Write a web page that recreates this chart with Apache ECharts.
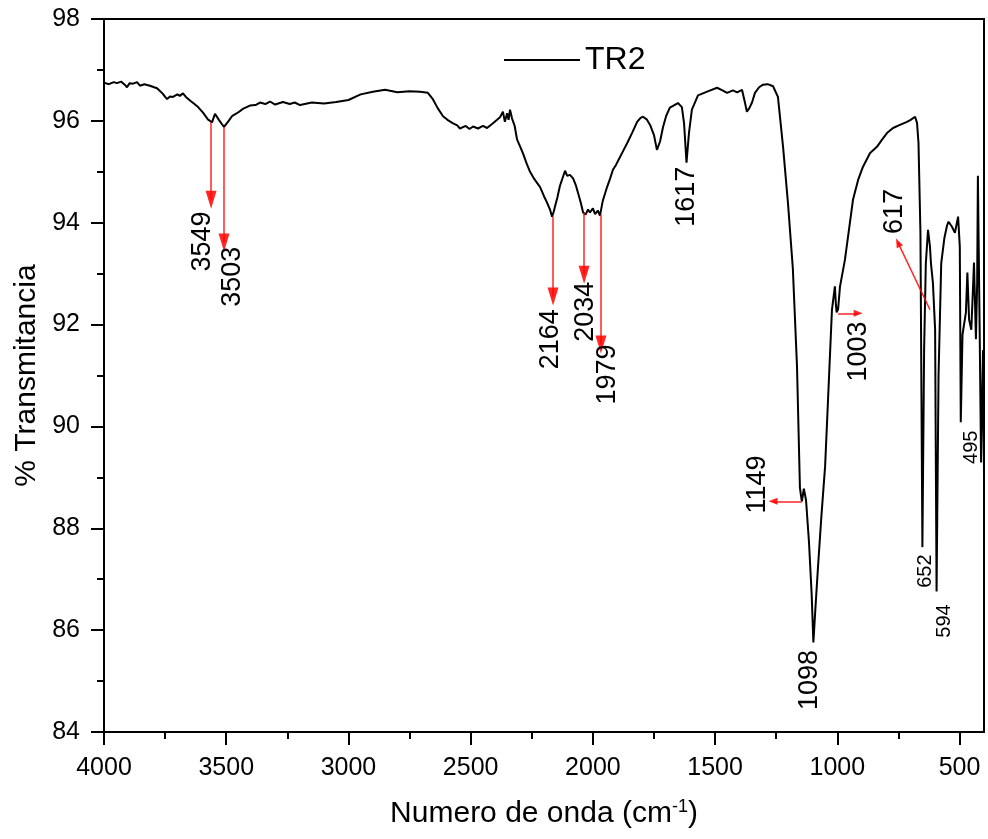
<!DOCTYPE html>
<html><head><meta charset="utf-8">
<script src="https://cdn.jsdelivr.net/npm/echarts@6/dist/echarts.min.js"></script>
<style>html,body{margin:0;padding:0;background:#fff}#c{width:988px;height:839px}</style>
</head><body><div id="c"></div>
<script>
// wavenumbers (cm-1)
var wavenumbers = [4000,3980,3960,3947,3930,3915,3906,3895,3881,3865,3853,3835,3812,3795,3783,3770,3759,3750,3742,3730,3718,3700,3690,3677,3665,3648,3630,3615,3595,3575,3558,3546,3530,3509,3490,3475,3456,3430,3403,3380,3362,3340,3321,3300,3268,3240,3220,3198,3150,3100,3050,3000,2950,2900,2850,2800,2750,2707,2675,2654,2635,2613,2595,2572,2555,2544,2520,2505,2490,2470,2450,2433,2410,2392,2380,2368,2360,2351,2345,2339,2331,2320,2310,2298,2286,2270,2257,2240,2216,2200,2188,2175,2167,2160,2155,2145,2135,2114,2105,2094,2081,2070,2061,2050,2040,2030,2020,2012,2000,1991,1980,1971,1960,1942,1930,1918,1905,1889,1875,1860,1840,1819,1805,1795,1780,1766,1750,1738,1725,1713,1700,1685,1652,1636,1627,1617,1607,1595,1570,1530,1492,1470,1451,1427,1410,1390,1378,1370,1360,1349,1337,1320,1304,1285,1263,1243,1222,1202,1182,1165,1153,1149,1145,1137,1128,1116,1105,1098,1090,1079,1065,1050,1038,1022,1010,1006,1003,997,989,969,950,936,915,895,866,838,817,797,772,744,715,700,682,674,668,660,652,645,638,629,621,617,609,600,594,586,575,562,551,545,531,519,506,499,495,488,474,468,461,452,446,441,433,428,425,418,412,408,404,400];
// % transmittance
var transmittance = [96.75,96.72,96.76,96.74,96.77,96.71,96.66,96.74,96.73,96.76,96.69,96.72,96.69,96.66,96.64,96.58,96.53,96.47,96.43,96.48,96.47,96.52,96.49,96.54,96.47,96.40,96.33,96.27,96.16,96.03,95.97,96.14,96.02,95.88,96.00,96.10,96.15,96.24,96.30,96.31,96.36,96.33,96.38,96.32,96.37,96.33,96.36,96.31,96.36,96.34,96.37,96.41,96.52,96.57,96.61,96.56,96.58,96.57,96.55,96.42,96.25,96.09,96.02,95.95,95.91,95.85,95.90,95.84,95.89,95.85,95.90,95.86,95.95,96.02,96.07,96.18,95.98,96.15,96.02,96.22,96.05,95.90,95.63,95.50,95.36,95.15,95.00,94.86,94.70,94.52,94.40,94.25,94.12,94.22,94.32,94.50,94.72,95.02,94.92,94.94,94.87,94.74,94.59,94.40,94.20,94.16,94.26,94.20,94.28,94.17,94.24,94.14,94.42,94.70,94.86,95.04,95.14,95.29,95.42,95.56,95.76,95.98,96.06,96.08,96.03,95.92,95.72,95.43,95.60,95.88,96.10,96.26,96.35,96.27,95.95,95.18,95.76,96.22,96.50,96.58,96.65,96.60,96.55,96.60,96.56,96.61,96.36,96.18,96.25,96.36,96.55,96.66,96.71,96.72,96.68,96.47,95.49,94.39,93.10,91.18,88.80,88.65,88.53,88.78,88.55,87.73,86.70,85.76,86.40,87.25,88.25,89.22,90.53,92.29,92.75,92.40,92.24,92.30,92.75,93.27,93.95,94.45,94.84,95.10,95.37,95.49,95.63,95.76,95.86,95.92,95.98,96.02,96.08,95.96,95.57,93.80,87.63,91.50,93.20,93.86,93.53,93.20,92.82,91.90,86.76,91.00,93.20,93.70,93.95,94.02,93.92,93.80,94.12,93.53,90.08,91.80,92.24,93.02,92.10,91.90,92.60,93.22,91.71,92.80,94.92,92.00,89.29,90.50,91.50,89.10];
var seriesName = 'TR2';
var xMajorTicks = [500,1000,1500,2000,2500,3000,3500,4000];
var xMinorTicks = [750,1250,1750,2250,2750,3250,3750];
// annotation arrows: [fromWn, fromT] -> [toWn, toT]
var arrowFrom = [[3562,95.98],[3509,95.88],[2163,94.12],[2036,94.20],[1967,94.16],[1145,88.53],[997,92.22],[621,92.29]];
var arrowTo   = [[3562,94.45],[3509,93.61],[2163,92.55],[2036,92.98],[1967,91.61],[1263,88.53],[915,92.22],[752,93.61]];
var arrowBig  = [true,true,true,true,true,false,false,false];
// peak labels: text, position
var peakLabels = ['3549','3503','2164','2034','1979','1617','1149','1003','617','1098','652','594','495'];
var peakLabelPos = [[3595,93.63],[3476,92.94],[2175,91.71],[2028,92.25],[1942,91.02],[1615,94.51],[1325,88.86],[915,91.47],[764,94.22],[1112,85.02],[641,87.16],[560,86.18],[453,89.59]];
var peakLabelSmall = [false,false,false,false,false,false,false,false,false,false,true,true,true];

var FONT = 'Liberation Sans, Arial, sans-serif';
var data = wavenumbers.map(function(w,i){return [w, transmittance[i]];});
var mlData = arrowFrom.map(function(f,i){
  var big = arrowBig[i];
  return [{coord:f, symbol:'none'},{coord:arrowTo[i], symbol:'triangle', symbolSize: big ? [11,18] : [7,9]}];
});
var mpData = peakLabels.map(function(t,i){
  return {name:t, coord:peakLabelPos[i], symbolSize:0,
    label:{show:true, formatter:t, rotate:90, position:'inside', align:'center', verticalAlign:'middle',
      fontSize: peakLabelSmall[i] ? 20 : 27, color:'#000', fontFamily:FONT}};
});

var chart = echarts.init(document.getElementById('c'), null, {renderer:'canvas'});
chart.setOption({
  animation:false,
  backgroundColor:'#fff',
  grid:{left:104, right:4, top:19, bottom:107, show:true, borderColor:'#000', borderWidth:2, backgroundColor:'transparent'},
  legend:{show:true, data:[{name:seriesName, icon:'rect'}], left:499, top:39, itemWidth:76, itemHeight:2, itemGap:0,
    itemStyle:{color:'#000', borderWidth:0},
    textStyle:{fontSize:32, color:'#000', fontFamily:FONT}},
  xAxis:[{
    type:'value', min:400, max:4000, inverse:true, position:'bottom',
    name:'Numero de onda (cm{sup|-1})', nameLocation:'middle', nameGap:66,
    nameTextStyle:{fontSize:30, color:'#000', fontFamily:FONT, rich:{sup:{fontSize:18, verticalAlign:'top', padding:[0,0,14,0], color:'#000', fontFamily:FONT}}},
    axisLine:{lineStyle:{color:'#000', width:2}},
    axisTick:{show:true, inside:false, length:13, lineStyle:{color:'#000', width:2}, customValues:xMajorTicks},
    axisLabel:{fontSize:25, color:'#000', margin:24, fontFamily:FONT, customValues:xMajorTicks, formatter:function(v){return String(v);}},
    splitLine:{show:false}
  },{
    type:'value', min:400, max:4000, inverse:true, position:'bottom',
    axisLine:{show:false},
    axisTick:{show:true, inside:false, length:7, lineStyle:{color:'#000', width:2}, customValues:xMinorTicks},
    axisLabel:{show:false},
    splitLine:{show:false}
  }],
  yAxis:{
    type:'value', min:84, max:98, interval:2,
    name:'% Transmitancia', nameLocation:'middle', nameGap:56,
    nameTextStyle:{fontSize:30, color:'#000', fontFamily:FONT},
    axisLine:{show:true, lineStyle:{color:'#000', width:2}},
    axisTick:{show:true, inside:false, length:13, lineStyle:{color:'#000', width:2}},
    minorTick:{show:true, splitNumber:2, length:7, lineStyle:{color:'#000', width:2}},
    axisLabel:{fontSize:25, color:'#000', margin:24, fontFamily:FONT},
    splitLine:{show:false}
  },
  series:[{
    name:seriesName, type:'line', data:data, xAxisIndex:0,
    symbol:'none', showSymbol:false, lineStyle:{color:'#000', width:2}, itemStyle:{color:'#000'},
    emphasis:{disabled:true}, silent:true,
    markLine:{silent:true, animation:false, symbol:['none','triangle'], label:{show:false},
      lineStyle:{color:'#ff0000', width:1.5, type:'solid', opacity:0.85}, emphasis:{disabled:true}, data:mlData},
    markPoint:{silent:true, animation:false, symbol:'circle', symbolSize:0, itemStyle:{color:'transparent'}, data:mpData}
  }]
});
</script></body></html>
